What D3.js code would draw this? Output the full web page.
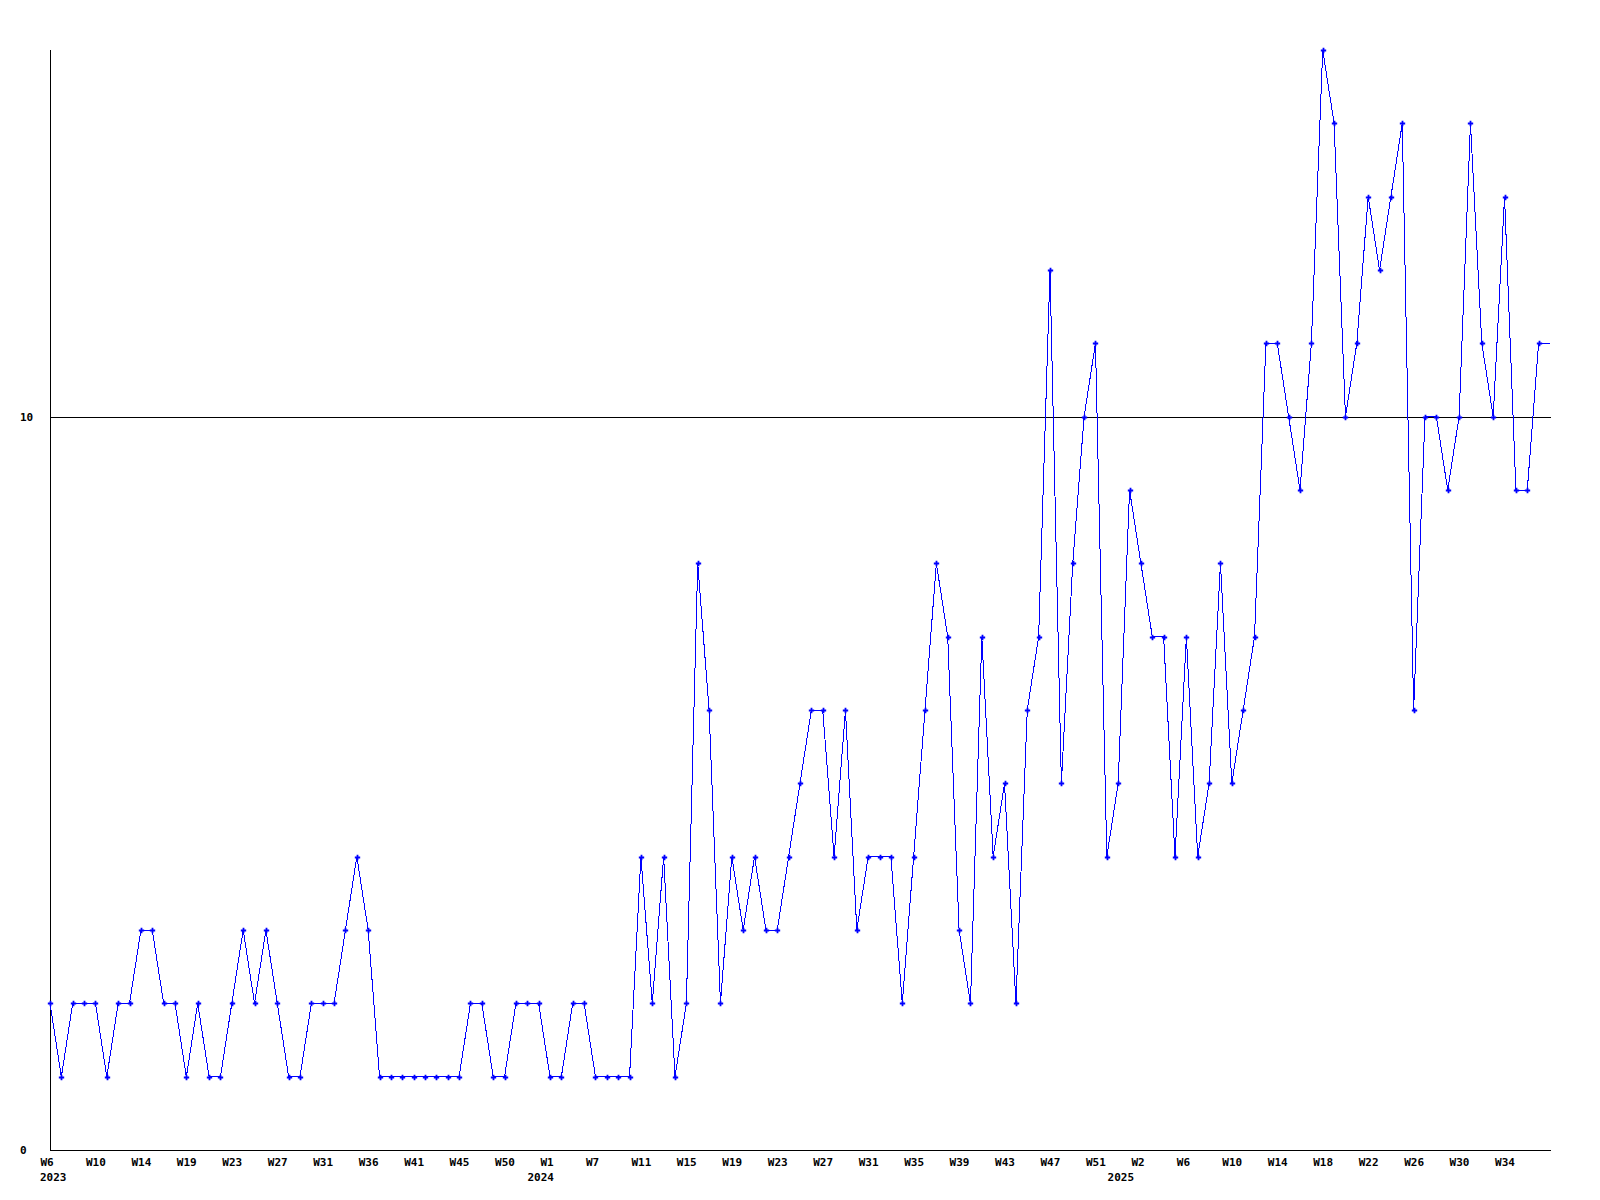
<!DOCTYPE html>
<html>
<head>
<meta charset="utf-8">
<script src="https://cdn.jsdelivr.net/npm/d3@7"></script>
<style>
  html, body { margin: 0; padding: 0; background: #ffffff; }
  svg { display: block; }
  text { font-family: "DejaVu Sans Mono", "Liberation Mono", monospace; font-weight: bold; font-size: 11px; fill: #000; }
</style>
</head>
<body>
<svg id="chart" width="1600" height="1200"></svg>
<script>
// Weekly values, one per point (133 points)
const values = [
  2,1,2,2,2,1,2,2,3,3,2,2,1,2,1,1,2,3,2,3,2,1,1,2,2,2,3,
  4,3,1,1,1,1,1,1,1,1,2,2,1,1,2,2,2,1,1,2,2,1,1,1,1,4,2,
  4,1,2,8,6,2,4,3,4,3,3,4,5,6,6,4,6,3,4,4,4,2,4,
  6,8,7,3,2,7,4,5,2,6,7,12,5,8,10,11,4,5,9,8,7,7,4,7,4,5,8,5,
  6,7,11,11,10,9,11,15,14,10,11,13,12,13,14,6,10,10,9,10,14,11,10,13,9,9,11,11
];
// Week tick labels, one every 4 points
const weekLabels = [
  "W6","W10","W14","W19","W23","W27","W31","W36","W41","W45","W50",
  "W1","W7","W11","W15","W19","W23","W27","W31","W35","W39","W43","W47","W51",
  "W2","W6","W10","W14","W18","W22","W26","W30","W34"
];
const labelEvery = 4;
// Year labels and the (fractional) point index where each starts
const yearLabels = ["2023","2024","2025"];
const yearStarts = [0, 42.9, 93.95];
const yTicks = [0, 10];
const yMax = 15;

(function () {
const svg = d3.select("#chart");
const mLeft = 50, mRight = 1550, mTop = 50, mBottom = 1150;

const x = d3.scaleLinear().domain([0, values.length - 1]).range([mLeft, mRight]);
const y = d3.scaleLinear().domain([0, yMax]).range([mBottom, mTop]);

// Y axis line
svg.append("line")
  .attr("x1", mLeft + 0.5).attr("x2", mLeft + 0.5)
  .attr("y1", y(yMax)).attr("y2", y(0) + 1)
  .attr("stroke", "#000").attr("shape-rendering", "crispEdges");

// Horizontal reference lines at tick values (0 is the x axis)
svg.selectAll("line.grid").data(yTicks).enter().append("line")
  .attr("class", "grid")
  .attr("x1", mLeft).attr("x2", mRight + 1)
  .attr("y1", d => Math.round(y(d)) + 0.5).attr("y2", d => Math.round(y(d)) + 0.5)
  .attr("stroke", "#000").attr("shape-rendering", "crispEdges");

// Y tick labels
const yAxis = d3.axisLeft(y).tickValues(yTicks).tickSize(0).tickFormat(d3.format("d"));
const gy = svg.append("g").attr("transform", `translate(${mLeft},0)`).call(yAxis);
gy.select(".domain").remove();
gy.selectAll("text")
  .attr("text-anchor", "start")
  .attr("x", -30)
  .attr("dy", "0.32em")
  .attr("fill", "#000")
  .style("font-family", "DejaVu Sans Mono").style("font-weight", "bold").style("font-size", "11px");

// X tick labels
const tickIdx = weekLabels.map((_, i) => i * labelEvery);
const xAxis = d3.axisBottom(x).tickValues(tickIdx).tickSize(0)
  .tickFormat((d, i) => weekLabels[i]);
const gx = svg.append("g").attr("transform", `translate(0,${mBottom})`).call(xAxis);
gx.select(".domain").remove();
gx.selectAll("text")
  .attr("text-anchor", "start")
  .attr("x", -10)
  .attr("y", 16)
  .attr("dy", 0)
  .attr("fill", "#000")
  .style("font-family", "DejaVu Sans Mono").style("font-weight", "bold").style("font-size", "11px");

// Year labels
svg.selectAll("text.year").data(yearLabels).enter().append("text")
  .attr("class", "year")
  .attr("x", (d, i) => x(yearStarts[i]) - 10)
  .attr("y", mBottom + 31)
  .text(d => d);

// Data line
const line = d3.line().x((d, i) => x(i)).y(d => y(d));
svg.append("path")
  .datum(values)
  .attr("d", line)
  .attr("fill", "none")
  .attr("stroke", "#0000ff")
  .attr("stroke-width", 1)
  .attr("shape-rendering", "crispEdges");

// Point markers (all but the final point, which sits on the plot edge)
const cross = d3.symbol().type(d3.symbolCross).size(16);
svg.selectAll("path.pt").data(values.slice(0, values.length - 1)).enter().append("path")
  .attr("class", "pt")
  .attr("d", cross)
  .attr("transform", (d, i) => `translate(${Math.round(x(i)) + 0.5},${Math.round(y(d)) + 0.5})`)
  .attr("fill", "#0000ff");
})();
</script>
</body>
</html>
